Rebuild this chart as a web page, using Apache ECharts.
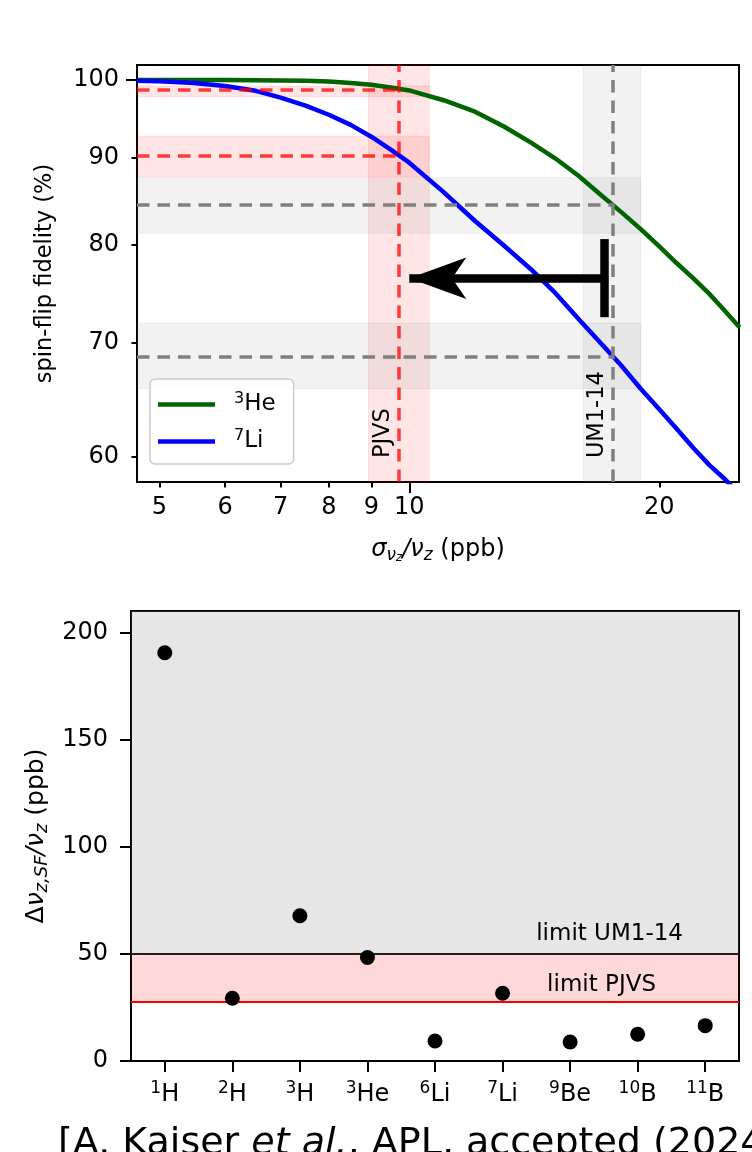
<!DOCTYPE html>
<html><head><meta charset="utf-8">
<script src="https://cdn.jsdelivr.net/npm/echarts@6.0.0/dist/echarts.min.js"></script>
<style>html,body{margin:0;padding:0;background:#fff}#c{width:752px;height:1152px}</style>
</head><body><div id="c"></div>
<script>
// ---------------- data (top panel) ----------------
const sigmaPpb    = [4.7, 5, 5.5, 6, 6.5, 7, 7.5, 8, 8.5, 9, 9.5, 10, 11, 12, 13, 14, 15, 16, 17, 18, 19, 20, 21, 22, 23, 24, 25];
const fidelityHe3 = [100.0, 100.0, 100.0, 100.0, 99.98, 99.95, 99.9, 99.8, 99.6, 99.35, 99.0, 98.6, 97.3, 95.8, 93.9, 91.9, 89.9, 87.8, 85.6, 83.6, 81.7, 79.8, 78.0, 76.4, 74.8, 73.1, 71.5];
const fidelityLi7 = [99.9, 99.85, 99.6, 99.2, 98.6, 97.65, 96.6, 95.4, 94.1, 92.6, 91.0, 89.4, 85.9, 82.6, 79.9, 77.4, 74.9, 72.3, 70.0, 67.9, 65.8, 64.0, 62.3, 60.7, 59.3, 58.2, 57.0];
const sigmaRange = [4.7, 24.95];
const fidelityRange = [57.98, 102.06];
const sigmaLabelTicks = [5, 6, 7, 8, 9, 10, 20];
const sigmaMinorTicks = [5, 6, 7, 8, 9, 20];
const sigmaMajorTicks = [10];
const fidelityLabelTicks = [60, 70, 80, 90, 100];
const fidelityMinorTicks = [60, 70, 80, 90];
const fidelityMajorTicks = [100];
// [low, centre, high]
const pjvsSigma  = [8.93, 9.72, 10.57];
const um14Sigma  = [16.2, 17.58, 19.0];
const pjvsFidHe3 = [97.76, 98.65, 99.19];
const pjvsFidLi7 = [87.7, 90.2, 92.67];
const um14FidHe3 = [81.24, 84.4, 87.6];
const um14FidLi7 = [65.8, 68.67, 71.93];
const arrowSigma = [17.19, 10.0];
const arrowFidelity = 76.43;
const barFidelity = [72.5, 80.6];
// ---------------- data (bottom panel) ----------------
const nuclides = ['1H', '2H', '3H', '3He', '6Li', '7Li', '9Be', '10B', '11B'];
const shiftPpb = [190.5, 29.3, 67.8, 48.3, 9.35, 31.6, 8.9, 12.5, 16.5];
const shiftTicks = [0, 50, 100, 150, 200];
const shiftRange = [0, 210];
const limitUM14 = 50;
const limitPJVS = 27.7;

// ---------------- chart ----------------
const FONT = 'DejaVu Sans';
const chart = echarts.init(document.getElementById('c'));
const supFmt = s => { const m = s.match(/^(\d+)(.+)$/); return '{sup|' + m[1] + '}{el|' + m[2] + '}'; };

const redBand = {color: 'rgba(255,0,0,0.1)', borderColor: 'rgba(255,0,0,0.1)', borderWidth: 1};
const grayBand = {color: 'rgba(128,128,128,0.1)', borderColor: 'rgba(128,128,128,0.1)', borderWidth: 1};
const redDash = {color: 'rgba(255,0,0,0.75)', width: 3.5, type: [12.5, 8]};
const grayDash = {color: '#808080', width: 3.5, type: [12.5, 8]};
const tickStyle = {color: '#000', width: 2};
const H = 417, W = 602;

const option = {
  animation: false,
  textStyle: {fontFamily: FONT},
  title: {
    text: '{n|[A. Kaiser }{it|et al.}{n|, APL, accepted (2024)]}',
    left: 53, top: 1120,
    textStyle: {fontWeight: 'normal', rich: {
      n: {fontSize: 38, fontFamily: FONT, fontWeight: 'normal', color: '#000'},
      it: {fontSize: 38, fontFamily: FONT, fontWeight: 'normal', fontStyle: 'italic', color: '#000'}
    }}
  },
  legend: {
    data: [{name: '3He', icon: 'rect'}, {name: '7Li', icon: 'rect'}],
    orient: 'vertical', left: 150, top: 379,
    backgroundColor: 'rgba(255,255,255,0.85)', borderColor: '#cccccc', borderWidth: 1.5, borderRadius: 5,
    padding: [12, 18, 11, 8], itemGap: 12, itemWidth: 57, itemHeight: 4.5,
    formatter: supFmt,
    textStyle: {color: '#000', rich: {
      sup: {fontSize: 16, fontFamily: FONT, color: '#000', lineHeight: 10, verticalAlign: 'top', padding: [0, 0, 0, 14]},
      el: {fontSize: 23, fontFamily: FONT, color: '#000', lineHeight: 27}
    }}
  },
  grid: [
    {left: 137, top: 65, width: W, height: H, show: true, borderColor: '#000', borderWidth: 2, backgroundColor: 'transparent', outerBoundsMode: 'none', containLabel: false},
    {left: 131, top: 611, width: 608, height: 450, show: true, borderColor: '#000', borderWidth: 2, backgroundColor: 'transparent', outerBoundsMode: 'none', containLabel: false}
  ],
  xAxis: [
    {gridIndex: 0, type: 'log', logBase: 10, min: sigmaRange[0], max: sigmaRange[1], position: 'bottom',
     axisLine: {show: true, lineStyle: {color: '#000', width: 2}},
     axisTick: {show: true, customValues: sigmaMinorTicks, length: 5.5, lineStyle: tickStyle},
     axisLabel: {customValues: sigmaLabelTicks, fontSize: 24, color: '#000', margin: 14, formatter: v => String(Math.round(v))},
     splitLine: {show: false}, minorTick: {show: false},
     name: '{it|σ}{sub|ν}{subsub|z}{it|/ν}{sub|z}{n| (ppb)}', nameLocation: 'middle', nameGap: 54,
     nameTextStyle: {rich: {
       it: {fontSize: 24, fontStyle: 'italic', fontFamily: FONT, color: '#000', lineHeight: 28},
       n: {fontSize: 24, fontFamily: FONT, color: '#000', lineHeight: 28},
       sub: {fontSize: 17, fontStyle: 'italic', fontFamily: FONT, color: '#000', lineHeight: 8, verticalAlign: 'bottom'},
       subsub: {fontSize: 12, fontStyle: 'italic', fontFamily: FONT, color: '#000', lineHeight: 3, verticalAlign: 'bottom'}
     }}},
    {gridIndex: 0, type: 'log', logBase: 10, min: sigmaRange[0], max: sigmaRange[1], position: 'top', offset: -H,
     axisLine: {show: false}, axisTick: {show: true, inside: true, customValues: sigmaMajorTicks, length: 11, lineStyle: tickStyle},
     axisLabel: {show: false}, splitLine: {show: false}, minorTick: {show: false}},
    {gridIndex: 1, type: 'category', data: nuclides, boundaryGap: true,
     axisLine: {show: true, lineStyle: {color: '#000', width: 2}},
     axisTick: {show: true, alignWithLabel: true, length: 11, lineStyle: tickStyle},
     axisLabel: {interval: 0, margin: 19, formatter: supFmt, rich: {
       sup: {fontSize: 17, fontFamily: FONT, color: '#000', lineHeight: 12, verticalAlign: 'top'},
       el: {fontSize: 24, fontFamily: FONT, color: '#000', lineHeight: 29}
     }},
     splitLine: {show: false}}
  ],
  yAxis: [
    {gridIndex: 0, type: 'log', logBase: 10, min: fidelityRange[0], max: fidelityRange[1],
     axisLine: {show: true, lineStyle: {color: '#000', width: 2}},
     axisTick: {show: true, customValues: fidelityMinorTicks, length: 5.5, lineStyle: tickStyle},
     axisLabel: {customValues: fidelityLabelTicks, fontSize: 24, color: '#000', margin: 18, formatter: v => String(Math.round(v))},
     splitLine: {show: false}, minorTick: {show: false},
     name: 'spin-flip fidelity (%)', nameLocation: 'middle', nameGap: 80,
     nameTextStyle: {fontSize: 22.5, color: '#000', fontFamily: FONT}},
    {gridIndex: 0, type: 'log', logBase: 10, min: fidelityRange[0], max: fidelityRange[1], position: 'right', offset: -W,
     axisLine: {show: false}, axisTick: {show: true, inside: true, customValues: fidelityMajorTicks, length: 11, lineStyle: tickStyle},
     axisLabel: {show: false}, splitLine: {show: false}, minorTick: {show: false}},
    {gridIndex: 1, type: 'value', min: shiftRange[0], max: shiftRange[1],
     axisLine: {show: true, lineStyle: {color: '#000', width: 2}},
     axisTick: {show: true, customValues: shiftTicks, length: 11, lineStyle: tickStyle},
     axisLabel: {customValues: shiftTicks, fontSize: 24, color: '#000', margin: 23},
     splitLine: {show: false},
     name: '{n|Δ}{it|ν}{sub|z,SF}{it|/ν}{sub|z}{n| (ppb)}', nameLocation: 'middle', nameGap: 80,
     nameTextStyle: {rich: {
       it: {fontSize: 25, fontStyle: 'italic', fontFamily: FONT, color: '#000', lineHeight: 29},
       n: {fontSize: 25, fontFamily: FONT, color: '#000', lineHeight: 29},
       sub: {fontSize: 18, fontStyle: 'italic', fontFamily: FONT, color: '#000', lineHeight: 8, verticalAlign: 'bottom'}
     }}}
  ],
  series: [
    // shaded uncertainty bands
    {type: 'line', xAxisIndex: 0, yAxisIndex: 0, data: [], z: 1, silent: true,
     markArea: {silent: true, data: [
       [{xAxis: pjvsSigma[0], itemStyle: redBand}, {xAxis: pjvsSigma[2]}],
       [{xAxis: um14Sigma[0], itemStyle: grayBand}, {xAxis: um14Sigma[2]}],
       [{coord: [sigmaRange[0], pjvsFidHe3[0]], itemStyle: redBand}, {coord: [pjvsSigma[2], pjvsFidHe3[2]]}],
       [{coord: [sigmaRange[0], pjvsFidLi7[0]], itemStyle: redBand}, {coord: [pjvsSigma[2], pjvsFidLi7[2]]}],
       [{coord: [sigmaRange[0], um14FidHe3[0]], itemStyle: grayBand}, {coord: [um14Sigma[2], um14FidHe3[2]]}],
       [{coord: [sigmaRange[0], um14FidLi7[0]], itemStyle: grayBand}, {coord: [um14Sigma[2], um14FidLi7[2]]}]
     ]}},
    // dashed reference lines
    {type: 'line', xAxisIndex: 0, yAxisIndex: 0, data: [], z: 2, silent: true,
     markLine: {silent: true, symbol: 'none', label: {show: false}, data: [
       {xAxis: pjvsSigma[1], lineStyle: redDash},
       {xAxis: um14Sigma[1], lineStyle: grayDash},
       [{coord: [sigmaRange[0], pjvsFidHe3[1]], lineStyle: redDash}, {coord: [pjvsSigma[1], pjvsFidHe3[1]], lineStyle: redDash}],
       [{coord: [sigmaRange[0], pjvsFidLi7[1]], lineStyle: redDash}, {coord: [pjvsSigma[1], pjvsFidLi7[1]], lineStyle: redDash}],
       [{coord: [sigmaRange[0], um14FidHe3[1]], lineStyle: grayDash}, {coord: [um14Sigma[1], um14FidHe3[1]], lineStyle: grayDash}],
       [{coord: [sigmaRange[0], um14FidLi7[1]], lineStyle: grayDash}, {coord: [um14Sigma[1], um14FidLi7[1]], lineStyle: grayDash}]
     ]}},
    {name: '3He', type: 'line', xAxisIndex: 0, yAxisIndex: 0, z: 3,
     data: sigmaPpb.map((s, i) => [s, fidelityHe3[i]]), symbol: 'none', showSymbol: false,
     lineStyle: {color: '#006400', width: 4.5}, itemStyle: {color: '#006400'}},
    {name: '7Li', type: 'line', xAxisIndex: 0, yAxisIndex: 0, z: 3,
     data: sigmaPpb.map((s, i) => [s, fidelityLi7[i]]), symbol: 'none', showSymbol: false,
     lineStyle: {color: '#0000ff', width: 4.5}, itemStyle: {color: '#0000ff'}},
    // arrow + bar
    {type: 'line', xAxisIndex: 0, yAxisIndex: 0, data: [], z: 4, silent: true,
     markLine: {silent: true, symbol: 'none', label: {show: false}, lineStyle: {color: '#000', width: 8.5, type: 'solid'}, data: [
       [{coord: [arrowSigma[0], arrowFidelity], symbol: 'none'}, {coord: [arrowSigma[1], arrowFidelity], symbol: 'arrow', symbolSize: [31, 57]}],
       [{coord: [arrowSigma[0], barFidelity[0]]}, {coord: [arrowSigma[0], barFidelity[1]]}]
     ]}},
    // vertical labels
    {type: 'scatter', xAxisIndex: 0, yAxisIndex: 0, z: 6, silent: true, symbolSize: 1,
     itemStyle: {color: 'rgba(255,255,255,0)'},
     data: [[9.297, 59.89, 'PJVS'], [16.82, 59.89, 'UM1-14']],
     label: {show: true, formatter: p => p.value[2], rotate: 90, position: 'inside', align: 'left', verticalAlign: 'middle',
             fontSize: 22.5, color: '#000000', opacity: 1, textBorderWidth: 0, fontFamily: FONT}},
    // bottom panel regions
    {type: 'line', xAxisIndex: 2, yAxisIndex: 2, data: [], z: 1, silent: true,
     markArea: {silent: true, data: [
       [{yAxis: limitUM14, itemStyle: {color: 'rgba(128,128,128,0.2)'}}, {yAxis: shiftRange[1]}],
       [{yAxis: limitPJVS, itemStyle: {color: 'rgba(255,0,0,0.15)'}}, {yAxis: limitUM14}]
     ]},
     markLine: {silent: true, symbol: 'none', data: [
       {yAxis: limitUM14, lineStyle: {color: '#2a1a1a', width: 2, type: 'solid'},
        label: {show: true, formatter: 'limit UM1-14', position: 'insideEndTop', distance: [56, 8], fontSize: 23, color: '#000', fontFamily: FONT}},
       {yAxis: limitPJVS, lineStyle: {color: '#ff0000', width: 2, type: 'solid'},
        label: {show: true, formatter: 'limit PJVS', position: 'insideEndTop', distance: [83, 5], fontSize: 23, color: '#000', fontFamily: FONT}}
     ]}},
    {type: 'scatter', xAxisIndex: 2, yAxisIndex: 2, z: 5, data: shiftPpb, symbolSize: 15, itemStyle: {color: '#000', opacity: 1}}
  ]
};
chart.setOption(option);
</script></body></html>
